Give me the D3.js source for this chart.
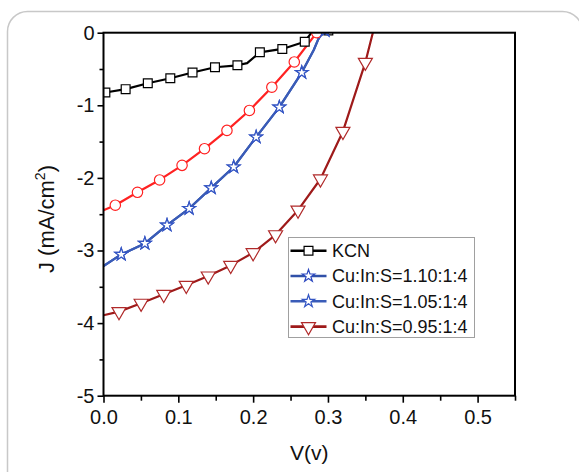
<!DOCTYPE html>
<html>
<head>
<meta charset="utf-8">
<script src="https://cdn.jsdelivr.net/npm/d3@7"></script>
<style>
  body { margin: 0; background: #fff; }
  svg { display: block; font-family: "Liberation Sans", Arial, sans-serif; }
</style>
</head>
<body>
<svg id="chart" width="579" height="472"></svg>
<script>
// J-V curves, [V, J, marker?]
var kcnPts = [[0,-0.83,0],[0.0025,-0.824,1],[0.0296,-0.778,1],[0.0592,-0.696,1],[0.0893,-0.627,1],
  [0.119,-0.549,1],[0.149,-0.476,1],[0.179,-0.449,1],[0.192,-0.42,0],[0.209,-0.27,1],[0.239,-0.224,1],
  [0.269,-0.124,1],[0.278,0,0],[0.3005,0.03,1]];
var cis110Pts = [[0,-3.214,0],[0.0237,-3.054,1],[0.0553,-2.903,1],[0.0849,-2.651,1],[0.1145,-2.422,1],
  [0.144,-2.138,1],[0.174,-1.85,1],[0.204,-1.438,1],[0.235,-1.026,1],[0.265,-0.549,1],
  [0.281,-0.238,0],[0.287,-0.092,0],[0.292,0,0],[0.296,0.03,1]];
var cis105Pts = cis110Pts; // drawn on top of each other in the figure
var redPts = [[0,-2.445,0],[0.0158,-2.376,1],[0.0454,-2.198,1],[0.075,-2.028,1],[0.105,-1.827,1],
  [0.135,-1.598,1],[0.165,-1.346,1],[0.195,-1.071,1],[0.225,-0.751,1],[0.255,-0.403,1],[0.285,0.0,1]];
var cis095Pts = [[0,-3.892,0],[0.0207,-3.842,1],[0.0503,-3.727,1],[0.0805,-3.604,1],[0.1106,-3.48,1],
  [0.14,-3.352,1],[0.17,-3.205,1],[0.2,-3.031,1],[0.23,-2.784,1],[0.26,-2.445,1],[0.29,-2.015,1],
  [0.32,-1.36,1],[0.35,-0.408,1],[0.36,0,0],[0.362,0.06,0]];

var legendNames = ["KCN", "Cu:In:S=1.10:1:4", "Cu:In:S=1.05:1:4", "Cu:In:S=0.95:1:4"];
var xTicks = [0, 0.1, 0.2, 0.3, 0.4, 0.5];
var yTicks = [0, -1, -2, -3, -4, -5];

var series = [
  {pts: redPts, color: "#ff2222", mark: "#ff2222", sym: d3.symbolCircle, size: 85, rot: 0},
  {pts: kcnPts, color: "#000", mark: "#000", sym: d3.symbolSquare, size: 78, rot: 0},
  {pts: cis110Pts, color: "#3050a8", mark: "#2c48c0", sym: d3.symbolStar, size: 48, rot: 0},
  {pts: cis105Pts, color: "#3a5cb8", mark: "#3456c4", sym: d3.symbolStar, size: 48, rot: 0},
  {pts: cis095Pts, color: "#9e1a1a", mark: "#b02a2a", sym: d3.symbolTriangle, size: 85, rot: 180}
];
var legendSeries = [series[1], series[2], series[3], series[4]];

var margin = {top: 32.7, left: 103.5},
    width = 411.5, height = 363;

var svg = d3.select("#chart");

// card outline
svg.append("rect")
  .attr("x", 7.5).attr("y", 11.5).attr("width", 575).attr("height", 520)
  .attr("rx", 20).attr("fill", "none").attr("stroke", "#c8c8c8").attr("stroke-width", 1.5);

var g = svg.append("g").attr("transform", "translate(" + margin.left + "," + margin.top + ")");

var x = d3.scaleLinear().domain([0, 0.55]).range([0, width]);
var y = d3.scaleLinear().domain([-5, 0]).range([height, 0]);

g.append("clipPath").attr("id", "clip")
  .append("rect").attr("width", width).attr("height", height);

// minor ticks
var xAxisMinor = d3.axisBottom(x).tickValues(d3.range(0.05, 0.56, 0.1)).tickSize(5).tickFormat("");
var yAxisMinor = d3.axisLeft(y).tickValues(d3.range(-4.5, 0, 1)).tickSize(4).tickFormat("");
g.append("g").attr("transform", "translate(0," + height + ")").call(xAxisMinor);
g.append("g").call(yAxisMinor);

var xAxis = d3.axisBottom(x).tickValues(xTicks).tickSize(7).tickPadding(7).tickFormat(d3.format(".1f"));
var yAxis = d3.axisLeft(y).tickValues(yTicks).tickSize(6).tickPadding(3).tickFormat(function(d) { return d; });

g.append("g").attr("class", "x axis").attr("transform", "translate(0," + height + ")").call(xAxis)
  .selectAll("text").attr("font-size", 20).attr("font-family", "Liberation Sans, Arial").attr("fill", "#111");
g.append("g").attr("class", "y axis").call(yAxis)
  .selectAll("text").attr("font-size", 20).attr("font-family", "Liberation Sans, Arial").attr("fill", "#111");

g.selectAll(".tick line").attr("stroke", "#000").attr("stroke-width", 1.6);
g.selectAll(".domain").remove();

var line = d3.line().x(function(d) { return x(d[0]); }).y(function(d) { return y(d[1]); });

var plot = g.append("g").attr("clip-path", "url(#clip)");

series.forEach(function(s) {
  plot.append("path").datum(s.pts)
    .attr("fill", "none").attr("stroke", s.color).attr("stroke-width", 2.2)
    .attr("stroke-linejoin", "round").attr("d", line);
});
series.forEach(function(s) {
  plot.selectAll(null).data(s.pts.filter(function(d) { return d[2]; }))
    .enter().append("path")
    .attr("transform", function(d) { return "translate(" + x(d[0]) + "," + y(d[1]) + ") rotate(" + s.rot + ")"; })
    .attr("d", d3.symbol().type(s.sym).size(s.size))
    .attr("fill", "#fff").attr("stroke", s.mark).attr("stroke-width", 1.2);
});

// frame
g.append("rect").attr("width", width).attr("height", height)
  .attr("fill", "none").attr("stroke", "#000").attr("stroke-width", 2);

// axis titles
svg.append("text").attr("x", margin.left + width / 2).attr("y", 460)
  .attr("text-anchor", "middle").attr("font-size", 21).attr("fill", "#111").text("V(v)");
var yt = svg.append("text").attr("transform", "translate(54,219) rotate(-90)")
  .attr("text-anchor", "middle").attr("font-size", 22).attr("fill", "#111");
yt.append("tspan").text("J (mA/cm");
yt.append("tspan").attr("font-size", 14).attr("dy", -9).text("2");
yt.append("tspan").attr("dy", 9).text(")");

// legend
var lg = svg.append("g").attr("transform", "translate(288.5,237.5)");
lg.append("rect").attr("width", 186).attr("height", 100)
  .attr("fill", "#fff").attr("stroke", "#a0a0a0").attr("stroke-width", 1);
legendSeries.forEach(function(s, i) {
  var row = lg.append("g").attr("transform", "translate(0," + (13.2 + i * 25.3) + ")");
  row.append("line").attr("x1", 2).attr("x2", 38).attr("stroke", s.color).attr("stroke-width", 2.6);
  row.append("path").attr("transform", "translate(20,0) rotate(" + s.rot + ")")
    .attr("d", d3.symbol().type(s.sym).size(s.size))
    .attr("fill", "#fff").attr("stroke", s.mark).attr("stroke-width", 1.2);
  row.append("text").attr("x", 43.5).attr("dy", "0.36em").attr("font-size", 18).attr("fill", "#111")
    .text(legendNames[i]);
});
</script>
</body>
</html>
